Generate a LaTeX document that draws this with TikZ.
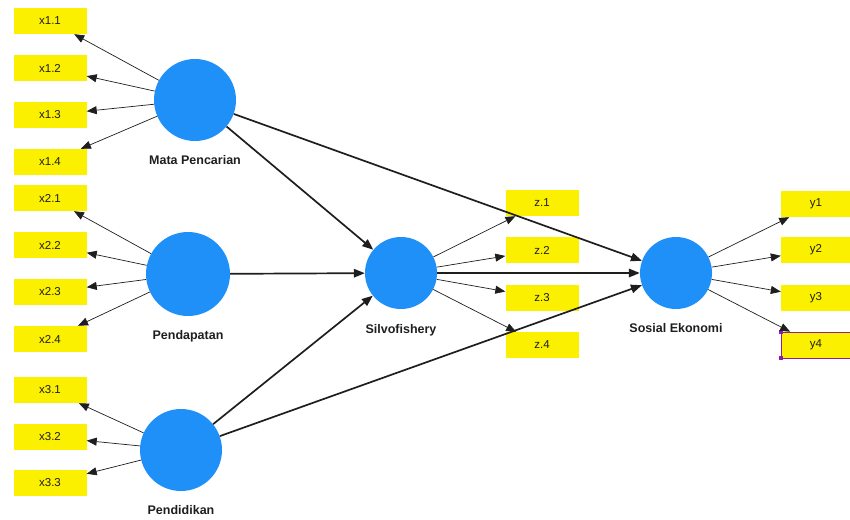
\documentclass[tikz,border=0pt]{standalone}
\usepackage{fontspec}
\setmainfont{Liberation Sans}
\setsansfont{Liberation Sans}
\usetikzlibrary{arrows.meta,positioning}

\begin{document}
\begin{tikzpicture}[x=1pt,y=-1pt,font=\sffamily,
    latent/.style={circle, fill=circ, inner sep=0pt, minimum size=82pt},
    ind/.style={fill=indc, inner sep=0pt, minimum width=73pt, minimum height=26pt,
      font=\fontsize{11.5}{13}\selectfont, text=ink},
    lbl/.style={font=\fontsize{12.5}{14}\selectfont\bfseries, text=ink},
    loading/.style={-{Triangle[length=10pt,width=8pt]}, line width=0.7pt, draw=ink},
    struct/.style={-{Triangle[length=11pt,width=8.5pt]}, line width=1.7pt, draw=ink}]
  \definecolor{ink}{RGB}{30,30,30}
  \definecolor{circ}{RGB}{30,144,248}
  \definecolor{indc}{RGB}{250,240,0}
  \definecolor{sel}{RGB}{140,30,160}

  \useasboundingbox (0,0) rectangle (850,519);

  % latent variables
  \node[latent] (mata) at (195,100) {};
  \node[latent, minimum size=84pt] (pdpt) at (188,274) {};
  \node[latent] (pddk) at (181,450) {};
  \node[latent, minimum size=72pt] (silvo) at (401,273) {};
  \node[latent, minimum size=72pt] (sosek) at (676,273) {};

  \node[lbl, below=11pt of mata] (mataL) {Mata Pencarian};
  \node[lbl, below=11pt of pdpt] (pdptL) {Pendapatan};
  \node[lbl, below=11pt of pddk] (pddkL) {Pendidikan};
  \node[lbl, below=12pt of silvo] (silvoL) {Silvofishery};
  \node[lbl, below=11pt of sosek] (sosekL) {Sosial Ekonomi};

  % indicators
  \foreach \nm/\txt/\yy in {x11/x1.1/21, x12/x1.2/68, x13/x1.3/115, x14/x1.4/162,
      x21/x2.1/198, x22/x2.2/245, x23/x2.3/292, x24/x2.4/339,
      x31/x3.1/390, x32/x3.2/437, x33/x3.3/483} {
    \node[ind] (\nm) at (50,\yy) {\txt};
  }
  \foreach \nm/\txt/\yy in {z1/z.1/203, z2/z.2/250, z3/z.3/298, z4/z.4/345} {
    \node[ind] (\nm) at (542,\yy) {\txt};
  }
  \foreach \nm/\txt/\yy in {y1/y1/204, y2/y2/250, y3/y3/298} {
    \node[ind, minimum width=70pt] (\nm) at (816,\yy) {\txt};
  }
  \node[ind, minimum width=70pt, draw=sel, line width=0.6pt] (y4) at (816,345) {y4};
  \fill[sel] ([shift={(-2,-2)}]y4.north west) rectangle ++(4,4);
  \fill[sel] ([shift={(-2,-2)}]y4.south west) rectangle ++(4,4);

  % outer loadings
  \foreach \nm in {x11,x12,x13,x14} \draw[loading] (mata) -- (\nm);
  \foreach \nm in {x21,x22,x23,x24} \draw[loading] (pdpt) -- (\nm);
  \foreach \nm in {x31,x32,x33} \draw[loading] (pddk) -- (\nm);
  \foreach \nm in {z1,z2,z3,z4} \draw[loading] (silvo) -- (\nm);
  \foreach \nm in {y1,y2,y3,y4} \draw[loading] (sosek) -- (\nm);

  % inner model
  \draw[struct] (mata) -- (silvo);
  \draw[struct] (pdpt) -- (silvo);
  \draw[struct] (pddk) -- (silvo);
  \draw[struct] (mata) -- (sosek);
  \draw[struct] (silvo) -- (sosek);
  \draw[struct] (pddk) -- (sosek);
\end{tikzpicture}
\end{document}
